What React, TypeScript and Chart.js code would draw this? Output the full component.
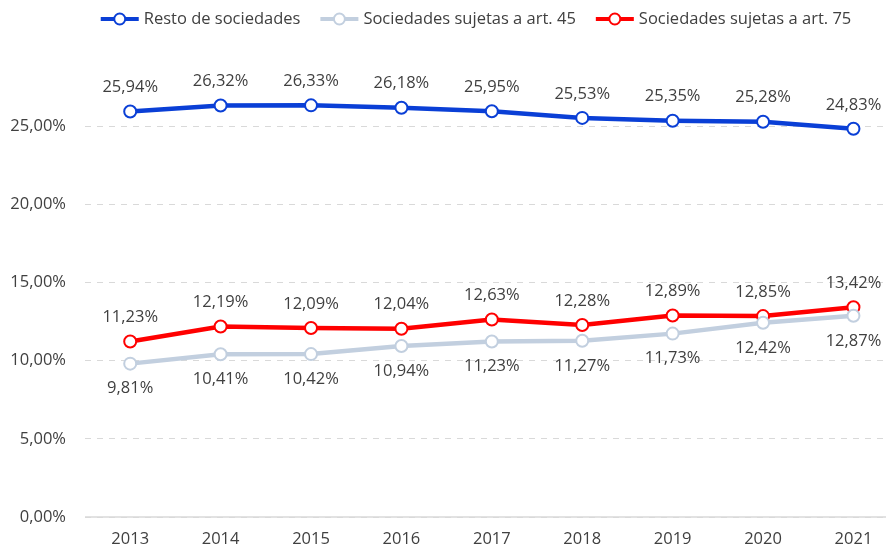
import React, { useEffect, useRef } from "react";
import { Chart, registerables } from "chart.js";

Chart.register(...registerables);

const years = [2013, 2014, 2015, 2016, 2017, 2018, 2019, 2020, 2021];
const resto = [25.94, 26.32, 26.33, 26.18, 25.95, 25.53, 25.35, 25.28, 24.83];
const art45 = [9.81, 10.41, 10.42, 10.94, 11.23, 11.27, 11.73, 12.42, 12.87];
const art75 = [11.23, 12.19, 12.09, 12.04, 12.63, 12.28, 12.89, 12.85, 13.42];
const yTicks = [0, 5, 10, 15, 20, 25];

const FONT = "'Open Sans', sans-serif";
const FS = 16.5;
const TEXT = "#404040";

function fmt(v: number) {
  return v.toFixed(2).replace(".", ",") + "%";
}

const labelPlugin = {
  id: "valueLabels",
  afterDatasetsDraw(chart: any) {
    const ctx = chart.ctx;
    ctx.save();
    ctx.font = `${FS}px ${FONT}`;
    ctx.fillStyle = TEXT;
    ctx.textAlign = "center";
    ctx.textBaseline = "middle";
    chart.data.datasets.forEach((ds: any, i: number) => {
      const meta = chart.getDatasetMeta(i);
      const below = ds.labelPos === "below";
      meta.data.forEach((pt: any, j: number) => {
        const v = ds.data[j].y;
        ctx.fillText(fmt(v), pt.x, pt.y + (below ? 25 : -24));
      });
    });
    ctx.restore();
  },
};

const legendPlugin = {
  id: "customLegend",
  afterDraw(chart: any) {
    const ctx = chart.ctx;
    ctx.save();
    ctx.font = `${FS}px ${FONT}`;
    ctx.textBaseline = "middle";
    ctx.textAlign = "left";
    const iconW = 38;
    const gapIcon = 5;
    const gapItem = 20;
    const items = chart.data.datasets.map((d: any) => ({
      label: d.label,
      color: d.borderColor,
      w: ctx.measureText(d.label).width,
    }));
    const total =
      items.reduce((s: number, it: any) => s + iconW + gapIcon + it.w, 0) +
      gapItem * (items.length - 1);
    let x = 476 - total / 2;
    const y = 19;
    items.forEach((it: any) => {
      ctx.strokeStyle = it.color;
      ctx.lineWidth = 4;
      ctx.beginPath();
      ctx.moveTo(x, y);
      ctx.lineTo(x + iconW, y);
      ctx.stroke();
      ctx.beginPath();
      ctx.arc(x + iconW / 2, y, 5.5, 0, Math.PI * 2);
      ctx.fillStyle = "#fff";
      ctx.fill();
      ctx.lineWidth = 2;
      ctx.stroke();
      ctx.fillStyle = TEXT;
      ctx.fillText(it.label, x + iconW + gapIcon, y);
      x += iconW + gapIcon + it.w + gapItem;
    });
    ctx.restore();
  },
};

const baselinePlugin = {
  id: "baseline",
  beforeDatasetsDraw(chart: any) {
    const { ctx, chartArea, scales } = chart;
    const y = scales.y.getPixelForValue(0);
    ctx.save();
    ctx.strokeStyle = "#d9d9d9";
    ctx.lineWidth = 1.5;
    ctx.beginPath();
    ctx.moveTo(chartArea.left, y);
    ctx.lineTo(chartArea.right, y);
    ctx.stroke();
    ctx.restore();
  },
};

export default function App() {
  const ref = useRef<HTMLCanvasElement>(null);
  useEffect(() => {
    const mk = (arr: number[]) => arr.map((y, i) => ({ x: years[i], y }));
    const ds = (label: string, arr: number[], color: string, labelPos: string) => ({
      label,
      data: mk(arr),
      borderColor: color,
      backgroundColor: "#fff",
      borderWidth: 4.5,
      pointRadius: 6,
      pointBorderWidth: 2,
      pointBackgroundColor: "#fff",
      pointBorderColor: color,
      tension: 0,
      clip: false,
      labelPos,
    });
    const chart = new Chart(ref.current!, {
      type: "line",
      data: {
        datasets: [
          ds("Resto de sociedades", resto, "#0a3fd6", "above"),
          ds("Sociedades sujetas a art. 45", art45, "#c2cfdf", "below"),
          ds("Sociedades sujetas a art. 75", art75, "#ff0000", "above"),
        ] as any,
      },
      options: {
        animation: false,
        responsive: false,
        maintainAspectRatio: false,
        layout: { autoPadding: false, padding: { top: 48, right: 0, bottom: 0, left: 0 } },
        plugins: {
          tooltip: { enabled: false },
          legend: { display: false },
        },
        scales: {
          x: {
            type: "linear",
            min: 2012.5,
            max: 2021.36,
            bounds: "data",
            afterBuildTicks: (axis: any) => {
              axis.ticks = years.map((v) => ({ value: v }));
            },
            afterFit: (axis: any) => {
              axis.height = 30;
              axis.paddingLeft = 0;
              axis.paddingRight = 0;
            },
            grid: { display: false, drawTicks: false },
            border: { display: false },
            ticks: {
              font: { family: FONT, size: FS },
              color: TEXT,
              padding: 12,
              callback: (v: any) => String(v),
              maxRotation: 0,
            },
          },
          y: {
            min: 0,
            max: 30,
            afterBuildTicks: (axis: any) => {
              axis.ticks = yTicks.map((v) => ({ value: v }));
            },
            afterFit: (axis: any) => {
              axis.width = 85;
              axis.paddingTop = 0;
              axis.paddingBottom = 0;
            },
            grid: {
              drawTicks: false,
              color: "#d9d9d9",
              lineWidth: 1,
            },
            border: { display: false, dash: [6, 6] },
            ticks: {
              font: { family: FONT, size: FS },
              color: TEXT,
              padding: 19,
              callback: (v: any) => fmt(Number(v)),
            },
          },
        },
      } as any,
      plugins: [labelPlugin, legendPlugin, baselinePlugin],
    });
    return () => chart.destroy();
  }, []);
  return (
    <div style={{ position: "absolute", left: 0, top: 0, width: 886, height: 547, background: "#fff" }}>
      <canvas ref={ref} width={886} height={547} style={{ display: "block" }} />
    </div>
  );
}
